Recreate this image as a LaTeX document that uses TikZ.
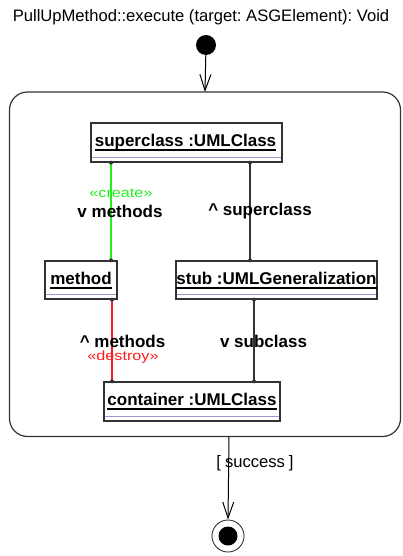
\documentclass[tikz,border=0pt]{standalone}
\usepackage{fontspec}
\setmainfont{Liberation Sans}
\newfontfamily\stereofont[FakeStretch=1.2]{Liberation Sans}
\usetikzlibrary{arrows.meta,calc}
\frenchspacing
\definecolor{frame}{HTML}{333333}
\definecolor{lav}{HTML}{9A9ACC}
\definecolor{umlgreen}{HTML}{22EE22}
\definecolor{umlred}{HTML}{FF1A1A}
\tikzset{
  obj/.style={draw=frame, line width=1.3pt, inner sep=0pt, fill=white},
  objtxt/.style={inner sep=0pt, anchor=base, font=\fontsize{17}{17}\selectfont\bfseries},
  lbl/.style={inner sep=0pt, font=\fontsize{17}{17}\selectfont\bfseries},
  stereo/.style={inner sep=0pt, font=\fontsize{13.5}{13.5}\stereofont},
  barb/.style={-{Straight Barb[length=16pt,width=11pt,line width=1pt]}, line width=1pt},
  enddot/.style={circle, fill=frame, inner sep=0pt, minimum size=4pt},
}
\newcommand{\objdeco}[2]{%
  \draw[black, line width=1.2pt] ($(#2.base west)+(0,4)$) -- ($(#2.base east)+(0,4)$);
  \draw[lav, line width=1.2pt] ($(#1.south west)+(1.5,-5.5)$) -- ($(#1.south east)+(-1.5,-5.5)$);
}
\begin{document}
\begin{tikzpicture}[x=1pt,y=-1pt]
\useasboundingbox (0,0) rectangle (402,556);
% title
\node[inner sep=0pt, anchor=base, font=\fontsize{16.6}{17}\selectfont] (title) at (201,21.5) {PullUpMethod::execute (target: ASGElement): Void};
% start
\node[circle, fill=black, inner sep=0pt, minimum size=20pt] (start) at (206,45) {};
% activity box
\draw[frame, line width=1.2pt, rounded corners=18pt] (9.5,92) rectangle (400.5,436.5);
\coordinate (boxtop) at (205,92);
\coordinate (boxbot) at (229,436.5);
\draw[barb] (start) -- (boxtop);
% objects
\node[obj, minimum width=191pt, minimum height=39pt] (sc) at (186.5,142.5) {};
\node[objtxt] (sct) at ($(sc.north)+(-1,23.7)$) {superclass :UMLClass};
\objdeco{sc}{sct}
\node[obj, minimum width=72pt, minimum height=38pt] (me) at (81,280) {};
\node[objtxt] (met) at ($(me.north)+(0,23.7)$) {method};
\objdeco{me}{met}
\node[obj, minimum width=201pt, minimum height=38pt] (st) at (276.5,280) {};
\node[objtxt] (stt) at ($(st.north)+(0,23.7)$) {stub :UMLGeneralization};
\objdeco{st}{stt}
\node[obj, minimum width=176pt, minimum height=39pt] (co) at (192,401.5) {};
\node[objtxt] (cot) at ($(co.north)+(0,23.7)$) {container :UMLClass};
\objdeco{co}{cot}
% links
\coordinate (a1) at (sc.south -| 111,0);
\coordinate (a2) at (me.north -| 111,0);
\draw[umlgreen, line width=1.2pt] (a1) -- (a2);
\coordinate (b1) at (sc.south -| 250,0);
\coordinate (b2) at (st.north -| 250,0);
\draw[frame, line width=1.2pt] (b1) -- (b2);
\coordinate (c1) at (me.south -| 112,0);
\coordinate (c2) at (co.north -| 112,0);
\draw[umlred, line width=1.2pt] (c1) -- (c2);
\coordinate (d1) at (st.south -| 254,0);
\coordinate (d2) at (co.north -| 254,0);
\draw[frame, line width=1.2pt] (d1) -- (d2);
\foreach \p in {a1,a2,b1,b2,c1,c2,d1,d2} \node[enddot] at (\p) {};
% labels
\node[stereo, text=umlgreen] (l1) at (121,193.5) {«create»};
\node[lbl] (l2) at (120,211) {v methods};
\node[lbl] (l3) at (260,211) {\^{} superclass};
\node[lbl] (l4) at (122.5,341) {\^{} methods};
\node[stereo, text=umlred] (l5) at (123,357.5) {«destroy»};
\node[lbl] (l6) at (263.5,341) {v subclass};
% end
\node[circle, draw=frame, line width=0.9pt, fill=white, inner sep=0pt, minimum size=32pt] (fin) at (228,536) {};
\node[circle, fill=black, inner sep=0pt, minimum size=19pt] (finin) at (fin) {};
\draw[barb] (boxbot) -- (fin.north);
\node[inner sep=0pt, font=\fontsize{16.6}{17}\selectfont] (succ) at (255,463.5) {[\hspace{4pt}success\hspace{4pt}]};
\end{tikzpicture}
\end{document}
